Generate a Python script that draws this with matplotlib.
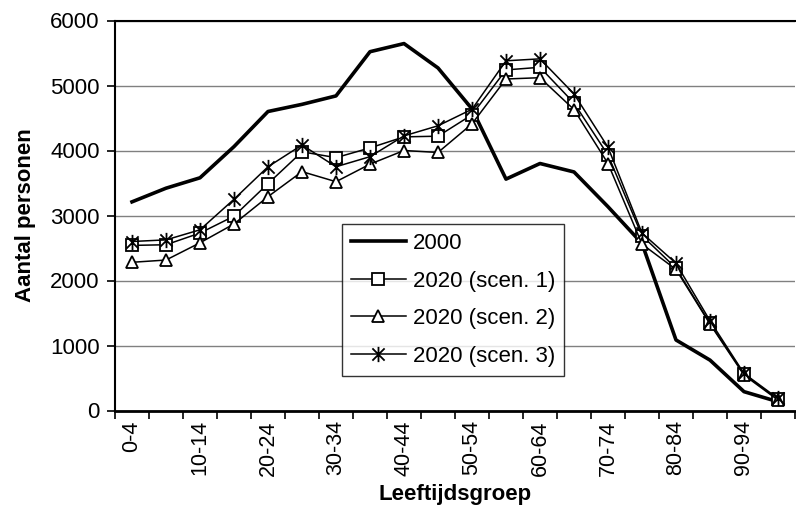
import numpy as np
import matplotlib
matplotlib.use("Agg")
import matplotlib.pyplot as plt
from matplotlib.path import Path

plt.rcParams['font.family'] = ['Liberation Sans', 'DejaVu Sans']

categories = ["0-4", "5-9", "10-14", "15-19", "20-24", "25-29", "30-34", "35-39",
              "40-44", "45-49", "50-54", "55-59", "60-64", "65-69", "70-74",
              "75-79", "80-84", "85-89", "90-94", "95-99"]

y2000 = [3210, 3420, 3580, 4060, 4600, 4710, 4840, 5520, 5645, 5270,
         4640, 3560, 3800, 3670, 3135, 2570, 1085, 775, 290, 135]
scen1 = [2540, 2550, 2730, 2990, 3490, 3980, 3890, 4040, 4210, 4220,
         4550, 5240, 5280, 4730, 3930, 2690, 2190, 1340, 560, 170]
scen2 = [2280, 2315, 2580, 2870, 3290, 3675, 3520, 3790, 4000, 3970,
         4410, 5100, 5120, 4630, 3800, 2560, 2170, 1330, 545, 160]
scen3 = [2600, 2625, 2780, 3250, 3750, 4085, 3750, 3905, 4225, 4380,
         4635, 5380, 5410, 4870, 4050, 2730, 2265, 1380, 570, 185]

labels = ["2000", "2020 (scen. 1)", "2020 (scen. 2)", "2020 (scen. 3)"]

W, H = 796, 518
fig = plt.figure(figsize=(W / 100, H / 100), dpi=100)
L, R, T, B = 115, 795, 20.5, 410.5
ax = fig.add_axes([L / W, 1 - B / H, (R - L) / W, (B - T) / H])

x = np.arange(len(categories))

star = Path([(0, -1), (0, 1), (-0.8, -0.8), (0.8, 0.8), (-0.8, 0.8), (0.8, -0.8)],
            [Path.MOVETO, Path.LINETO, Path.MOVETO, Path.LINETO, Path.MOVETO, Path.LINETO])

ax.plot(x, y2000, color='black', lw=2.6, label=labels[0], zorder=3)
ax.plot(x, scen1, color='black', lw=1.1, marker='s', ms=8.5, mfc='white', mec='black',
        mew=1.3, label=labels[1], zorder=4)
ax.plot(x, scen2, color='black', lw=1.1, marker='^', ms=9, mfc='white', mec='black',
        mew=1.3, label=labels[2], zorder=4)
ax.plot(x, scen3, color='black', lw=1.1, marker=star, ms=11, mfc='none', mec='black',
        mew=1.3, label=labels[3], zorder=5)

ax.set_xlim(-0.5, len(categories) - 0.5)
ax.set_ylim(0, 6000)
ax.set_yticks(np.arange(0, 6001, 1000))
ax.yaxis.grid(True, color='#808080', lw=1)
ax.set_axisbelow(True)

ax.set_xticks(np.arange(-0.5, len(categories)), minor=False)
ax.set_xticklabels([])
ax.set_xticks(x[::2], minor=True)
ax.set_xticklabels(categories[::2], minor=True, rotation=90, fontsize=15.5)
ax.tick_params(axis='x', which='major', direction='out', length=6, width=1.2)
ax.tick_params(axis='x', which='minor', length=0, pad=7)
ax.tick_params(axis='y', direction='out', length=6, width=1.2, labelsize=16, pad=5)

for s in ['left', 'bottom', 'top']:
    ax.spines[s].set_color('black')
ax.spines['left'].set_linewidth(1.5)
ax.spines['bottom'].set_linewidth(2)
ax.spines['top'].set_linewidth(1.5)
ax.spines['right'].set_visible(False)

ax.set_ylabel("Aantal personen", fontsize=16, fontweight='bold', labelpad=10)
ax.set_xlabel("Leeftijdsgroep", fontsize=16, fontweight='bold', labelpad=6)

leg = ax.legend(loc='upper left', bbox_to_anchor=((341.7 - L) / (R - L), (B - 224) / (B - T)),
                fontsize=16, frameon=True, fancybox=False, edgecolor='black',
                handlelength=2.5, handletextpad=0.3, labelspacing=0.75,
                borderpad=0.4, borderaxespad=0)
leg.get_frame().set_linewidth(1.0)

fig.savefig("out.png", dpi=100)
